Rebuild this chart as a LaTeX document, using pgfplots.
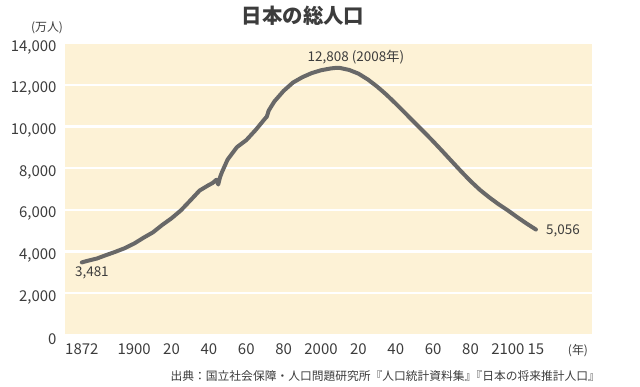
\documentclass[border=0pt]{standalone}
\usepackage{pgfplots}
\pgfplotsset{compat=1.18}
\usepackage{fontspec}
\setmainfont{Noto Sans CJK JP}
\definecolor{cream}{RGB}{253,242,214}
\definecolor{curve}{RGB}{104,104,104}
\definecolor{txt}{RGB}{60,60,60}
\begin{document}
\begin{tikzpicture}[x=1bp,y=1bp]
\path[use as bounding box] (0,0) rectangle (640,386);
\begin{axis}[
  at={(65bp,51bp)}, anchor=south west,
  width=527bp, height=292bp, scale only axis,
  xmin=1863, xmax=2145, ymin=0, ymax=14000,
  axis line style={draw=none},
  axis background/.style={fill=cream},
  ymajorgrids, major grid style={draw=white, line width=2.2bp},
  major tick length=0pt,
  scaled y ticks=false,
  ytick={0,2000,4000,6000,8000,10000,12000,14000},
  yticklabel style={anchor=east, xshift=-5bp, yshift=-4bp, text=txt, font=\fontsize{15}{18}\selectfont},
  xtick={1872,1900,1920,1940,1960,1980,2000,2020,2040,2060,2080,2100,2115},
  xticklabels={1872,1900,20,40,60,80,2000,20,40,60,80,2100,15},
  xticklabel style={text=txt, font=\fontsize{15}{18}\selectfont, yshift=-5bp},
  yticklabel={\pgfmathprintnumber[1000 sep={,},assume math mode=true]{\tick}},
]
\pgfplotsinvokeforeach{2000,4000,6000,8000,10000,12000}{
  \draw[white, line width=2.2bp] (axis cs:1863,#1) -- (axis cs:2145,#1);
}
\addplot[curve, line width=4bp, line join=round, line cap=round] table {
x y
1872 3481
1875 3555
1880 3665
1885 3831
1890 3990
1895 4164
1900 4385
1905 4662
1910 4918
1915 5275
1920 5596
1925 5974
1930 6445
1935 6925
1940 7193
1942 7288
1944 7443
1945 7215
1946 7575
1947 7810
1950 8411
1955 9008
1960 9342
1965 9828
1970 10372
1971 10470
1972 10760
1975 11194
1980 11706
1985 12105
1990 12361
1995 12557
2000 12693
2005 12777
2008 12808
2010 12806
2015 12709
2020 12532
2025 12254
2030 11913
2035 11522
2040 11092
2045 10642
2050 10192
2055 9744
2060 9284
2065 8808
2070 8323
2075 7841
2080 7379
2085 6960
2090 6600
2095 6270
2100 5972
2105 5650
2110 5343
2115 5056
};
\node[text=txt, font=\fontsize{13.5}{16}\selectfont] at (axis cs:1877.4,2973) {3,481};
\node[text=txt, font=\fontsize{13.5}{16}\selectfont] at (axis cs:2018.7,13329) {12,808 (2008年)};
\node[text=txt, font=\fontsize{13.5}{16}\selectfont] at (axis cs:2129.5,4986) {5,056};
\end{axis}
\node[text=txt, font=\fontsize{20.5}{24}\selectfont\bfseries] at (303,370) {日本の総人口};
\node[text=txt, font=\fontsize{12}{14}\selectfont] at (47,358) {(万人)};
\node[text=txt, font=\fontsize{12}{14}\selectfont] at (578,35) {(年)};
\node[text=txt, font=\fontsize{11.8}{14}\selectfont, anchor=east, inner sep=0pt] at (600,10) {出典：国立社会保障・人口問題研究所『人口統計資料集』\hspace{-0.5em}『日本の将来推計人口』};
\end{tikzpicture}
\end{document}
